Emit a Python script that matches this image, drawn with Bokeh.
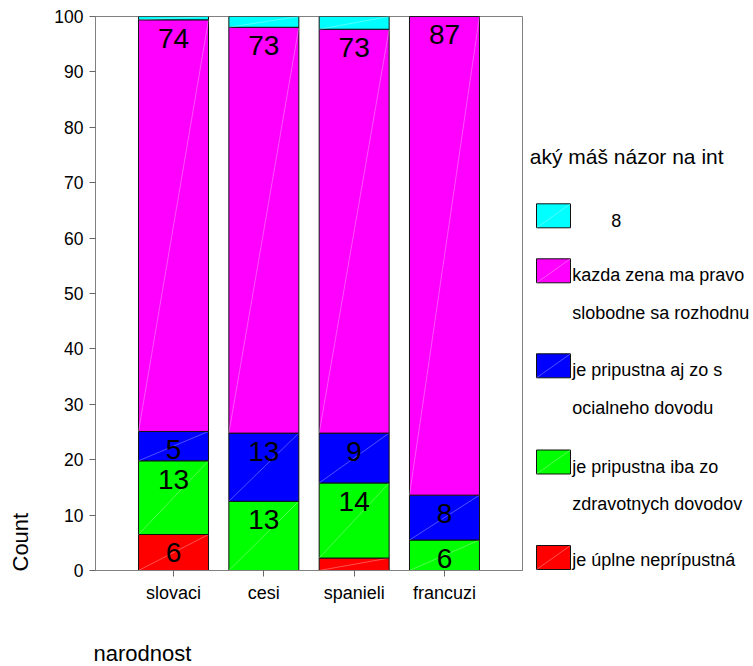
import numpy as np
from bokeh.plotting import figure
from bokeh.models import Range1d, FixedTicker, Title
from bokeh.layouts import row
from bokeh.core.properties import value
from bokeh.embed import file_html
from bokeh.resources import INLINE

# ---------------- data ----------------
categories = ["slovaci", "cesi", "spanieli", "francuzi"]
# stacked shares (bottom -> top)
red = [6.5, 0.0, 2.25, 0.0]          # je úplne neprípustná
green = [13.3, 12.5, 13.55, 5.5]     # je pripustna iba zo zdravotnych dovodov
blue = [5.3, 12.3, 9.0, 8.1]         # je pripustna aj zo socialneho dovodu
magenta = [74.3, 73.25, 72.9, 86.4]  # kazda zena ma pravo slobodne sa rozhodnu
cyan = [0.6, 1.95, 2.3, 0.0]         # 8
red_labels = ["6", "", "", ""]
green_labels = ["13", "13", "14", "6"]
blue_labels = ["5", "13", "9", "8"]
magenta_labels = ["74", "73", "73", "87"]
cyan_labels = ["", "", "", ""]
y_ticks = [0, 10, 20, 30, 40, 50, 60, 70, 80, 90, 100]

legend_title = "aký máš názor na int"
legend_lines = [
    ["8"],
    ["kazda zena ma pravo", "slobodne sa rozhodnu"],
    ["je pripustna aj zo s", "ocialneho dovodu"],
    ["je pripustna iba zo", "zdravotnych dovodov"],
    ["je úplne neprípustná"],
]
y_title = "Count"
x_title = "narodnost"

FONT = value("Liberation Sans")
COLORS = ["#FF0000", "#00FF00", "#0000FF", "#FF00FF", "#00FFFF"]
series = [red, green, blue, magenta, cyan]
labels = [red_labels, green_labels, blue_labels, magenta_labels, cyan_labels]
legend_colors = COLORS[::-1]

# ---------------- main plot ----------------
FL, FT, FW, FH = 95, 16, 427, 554
H = 666
X0, X1 = 0.136, 4.864
BW = 0.775
p = figure(width=FL + FW + 1, height=H, x_range=Range1d(X0, X1), y_range=Range1d(0, 100),
           output_backend="svg", toolbar_location=None,
           min_border_left=FL, min_border_right=1, min_border_top=FT,
           min_border_bottom=H - FT - FH)
p.outline_line_color = "#808080"
p.outline_line_width = 1
p.grid.visible = False
p.background_fill_color = "white"

xs = np.arange(1, len(categories) + 1, dtype=float)
bottom = np.zeros(len(categories))
for vals, col, lbls in zip(series, COLORS, labels):
    v = np.array(vals, dtype=float)
    top = bottom + v
    p.vbar(x=xs, width=BW, bottom=bottom, top=top, fill_color=col,
           line_color="#111111", line_width=1)
    m = v > 0
    p.segment(x0=(xs - BW / 2)[m], y0=bottom[m], x1=(xs + BW / 2)[m], y1=top[m],
              line_color="white", line_alpha=0.45, line_width=0.7)
    lm = np.array([s != "" for s in lbls])
    if lm.any():
        p.text(x=xs[lm], y=(top - 3.3)[lm], text=[s for s in lbls if s],
               text_font=FONT, text_font_size="28px", text_color="black",
               text_align="center", text_baseline="middle")
    bottom = top

for ax in (p.xaxis[0], p.yaxis[0]):
    ax.axis_line_color = "#808080"
    ax.major_tick_line_color = "#666666"
    ax.minor_tick_line_color = None
    ax.major_tick_in = 0
    ax.major_tick_out = 6
    ax.major_label_text_font = "Liberation Sans"
    ax.major_label_text_color = "black"
    ax.major_label_standoff = 6

p.yaxis.ticker = FixedTicker(ticks=y_ticks)
p.yaxis.major_label_text_font_size = "17.5px"
p.xaxis.ticker = FixedTicker(ticks=list(xs))
p.xaxis.major_label_overrides = {float(x): c for x, c in zip(xs, categories)}
p.xaxis.major_label_overrides.update({int(x): c for x, c in zip(xs, categories)})
p.xaxis.major_label_text_font_size = "18px"

# spacer titles push the axis titles outward
p.add_layout(Title(text=" ", text_font_size="1px", standoff=16), "left")
p.add_layout(Title(text=y_title, align="left", offset=-1, standoff=0, vertical_align="bottom",
                   text_font="Liberation Sans", text_font_size="22px",
                   text_font_style="normal", text_color="black"), "left")
p.add_layout(Title(text=" ", text_font_size="1px", standoff=30), "below")
p.add_layout(Title(text=x_title, align="left", offset=-2, standoff=0, vertical_align="bottom",
                   text_font="Liberation Sans", text_font_size="22px",
                   text_font_style="normal", text_color="black"), "below")

# ---------------- legend panel (frame aligned with main frame; y in page px) ----------------
LW = 753 - (FL + FW + 1)
q = figure(width=LW, height=H, x_range=Range1d(0, LW),
           y_range=Range1d(FT + FH, FT),
           x_axis_type=None, y_axis_type=None, output_backend="svg",
           toolbar_location=None, min_border_left=0, min_border_right=0,
           min_border_top=FT, min_border_bottom=H - FT - FH)
q.outline_line_color = None
q.grid.visible = False

box_cx, box_w, box_h = 30, 34, 24
box_cy = [215.3, 270.3, 365.3, 461.5, 557.0]
text_x = [87.7, 48.7, 48.7, 48.7, 48.7]
LINE_GAP = 37.7
TEXT_DROP = 4.5
MAX_CENTER = FT + FH - 11  # keep descenders inside the frame

q.text(x=[6.3], y=[156.3], text=[legend_title], text_font=FONT, text_font_size="21px",
       text_color="black", text_align="left", text_baseline="middle")
for cyv, col, lines, tx in zip(box_cy, legend_colors, legend_lines, text_x):
    q.rect(x=[box_cx], y=[cyv], width=box_w, height=box_h, fill_color=col,
           line_color="#111111", line_width=1)
    q.segment(x0=[box_cx - box_w / 2], y0=[cyv + box_h / 2], x1=[box_cx + box_w / 2],
              y1=[cyv - box_h / 2], line_color="white", line_alpha=0.45, line_width=0.7)
    c1 = min(cyv + TEXT_DROP, MAX_CENTER)
    q.text(x=[tx] * len(lines), y=[c1 + i * LINE_GAP for i in range(len(lines))],
           text=lines, text_font=FONT, text_font_size="18px", text_color="black",
           text_align="left", text_baseline="middle")

layout = row(p, q)
open("out.html", "w").write(file_html(layout, INLINE))
